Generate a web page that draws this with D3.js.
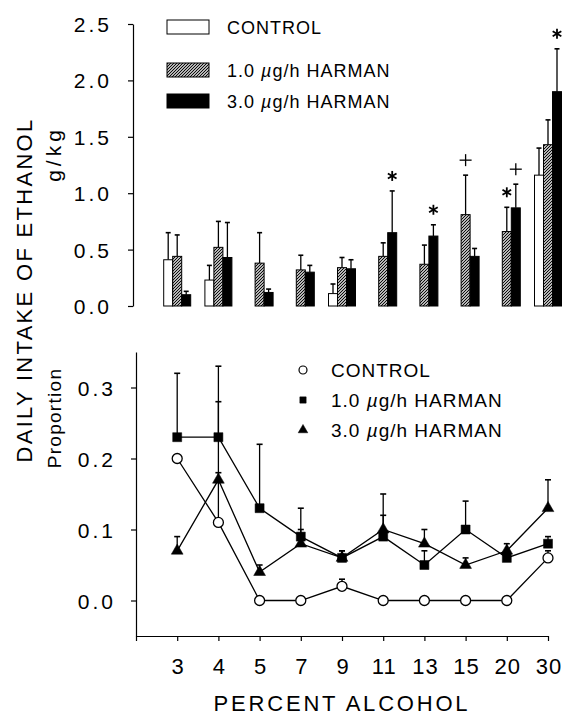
<!DOCTYPE html>
<html>
<head>
<meta charset="utf-8">
<script src="https://cdn.jsdelivr.net/npm/d3@7"></script>
<style>
body { margin: 0; background: #fff; }
svg { display: block; font-family: "Liberation Sans", Arial, sans-serif; }
</style>
</head>
<body>
<div id="wrapper"></div>
<script>
const categories = ["3", "4", "5", "7", "9", "11", "13", "15", "20", "30"]
const seriesNames = ["CONTROL", "1.0", "3.0"]

// top panel, g/kg (mean and mean + SEM)
const intakeControl = [0.41, 0.23, 0, 0, 0.11, 0, 0, 0, 0, 1.16]
const intakeControlErr = [0.65, 0.36, null, null, 0.195, null, null, null, null, 1.40]
const intakeLow = [0.44, 0.52, 0.38, 0.32, 0.34, 0.44, 0.37, 0.81, 0.66, 1.43]
const intakeLowErr = [0.63, 0.75, 0.65, 0.45, 0.43, 0.56, 0.54, 1.16, 0.875, 1.65]
const intakeHigh = [0.10, 0.43, 0.12, 0.30, 0.33, 0.65, 0.62, 0.44, 0.87, 1.90]
const intakeHighErr = [0.13, 0.74, 0.15, 0.36, 0.41, 1.02, 0.72, 0.51, 1.08, 2.28]

// significance marks on the top panel
const marks = [
    { cat: "11", series: 2, sym: "*" },
    { cat: "13", series: 2, sym: "*" },
    { cat: "15", series: 1, sym: "+" },
    { cat: "20", series: 1, sym: "*" },
    { cat: "20", series: 2, sym: "+" },
    { cat: "30", series: 2, sym: "*" },
]

// bottom panel, proportion
const propControl = [0.20, 0.11, 0, 0, 0.02, 0, 0, 0, 0, 0.06]
const propControlErr = [null, 0.18, null, null, 0.03, null, null, null, null, 0.07]
const propLow = [0.23, 0.23, 0.13, 0.09, 0.06, 0.09, 0.05, 0.10, 0.06, 0.08]
const propLowErr = [0.32, 0.33, 0.22, 0.13, 0.07, 0.12, 0.07, 0.14, 0.07, 0.09]
const propHigh = [0.07, 0.17, 0.04, 0.08, 0.06, 0.10, 0.08, 0.05, 0.07, 0.13]
const propHighErr = [0.09, 0.28, 0.05, 0.10, 0.07, 0.15, 0.10, 0.06, 0.08, 0.17]

const topTicks = [0, 0.5, 1.0, 1.5, 2.0, 2.5]
const bottomTicks = [0, 0.1, 0.2, 0.3]

const width = 564
const height = 715

const svg = d3.select("#wrapper")
    .append("svg")
    .attr("width", width)
    .attr("height", height)

const defs = svg.append("defs")
defs.append("pattern")
    .attr("id", "hatch")
    .attr("patternUnits", "userSpaceOnUse")
    .attr("width", 3)
    .attr("height", 3)
    .call(p => p.append("rect").attr("width", 3).attr("height", 3).attr("fill", "#fff"))
    .append("path")
    .attr("d", "M-1,1 l2,-2 M0,3 l3,-3 M2,4 l2,-2")
    .attr("stroke", "#000")
    .attr("stroke-width", 1.1)

const xScale = d3.scalePoint()
    .domain([""].concat(categories))
    .range([136, 548])

const subScale = d3.scaleBand()
    .domain([0, 1, 2])
    .range([-13.5, 13.5])

const yTop = d3.scaleLinear().domain([0, 2.5]).range([306, 24])
const yBottom = d3.scaleLinear().domain([-0.05, 0.35]).range([636, 352])

const styleAxis = g => {
    g.selectAll("path, line").attr("stroke", "#000").attr("stroke-width", 1.2)
    g.selectAll("text")
        .attr("fill", "#000")
        .style("font-family", "Liberation Sans, Arial, sans-serif")
        .style("font-size", "21px")
        .style("letter-spacing", "3px")
}

// ---------- top panel ----------
const topAxis = svg.append("g")
    .attr("transform", "translate(133,0)")
    .call(d3.axisLeft(yTop).tickValues(topTicks).tickFormat(d3.format(".1f")).tickSize(5).tickSizeOuter(0).tickPadding(16))
    .call(styleAxis)
topAxis.selectAll("text").attr("dy", "0.36em")

const fills = ["#fff", "url(#hatch)", "#000"]
const barData = []
const intakeVals = [intakeControl, intakeLow, intakeHigh]
const intakeErrs = [intakeControlErr, intakeLowErr, intakeHighErr]
categories.forEach((c, i) => {
    intakeVals.forEach((vals, s) => {
        barData.push({ cat: c, series: s, value: vals[i], err: intakeErrs[s][i] })
    })
})

const bars = svg.append("g")
bars.selectAll("line.err")
    .data(barData.filter(d => d.err != null))
    .join("g")
    .each(function (d) {
        const cx = xScale(d.cat) + subScale(d.series) + subScale.bandwidth() / 2
        const g = d3.select(this)
        g.append("line")
            .attr("x1", cx).attr("x2", cx)
            .attr("y1", yTop(d.value)).attr("y2", yTop(d.err))
            .attr("stroke", "#000").attr("stroke-width", 1.3)
        g.append("line")
            .attr("x1", cx - 2.5).attr("x2", cx + 2.5)
            .attr("y1", yTop(d.err)).attr("y2", yTop(d.err))
            .attr("stroke", "#000").attr("stroke-width", 1.6)
    })

bars.selectAll("rect")
    .data(barData)
    .join("rect")
    .attr("x", d => xScale(d.cat) + subScale(d.series))
    .attr("width", subScale.bandwidth())
    .attr("y", d => yTop(d.value))
    .attr("height", d => yTop(0) - yTop(d.value))
    .attr("fill", d => fills[d.series])
    .attr("stroke", "#000")
    .attr("stroke-width", 1)

const markG = svg.append("g")
marks.forEach(m => {
    const i = categories.indexOf(m.cat)
    const cx = xScale(m.cat) + subScale(m.series) + subScale.bandwidth() / 2
    const cy = yTop(intakeErrs[m.series][i]) - 15
    if (m.sym === "*") {
        [90, 30, 150].forEach(a => {
            const r = 5, t = a * Math.PI / 180
            markG.append("line")
                .attr("x1", cx - r * Math.cos(t)).attr("y1", cy - r * Math.sin(t))
                .attr("x2", cx + r * Math.cos(t)).attr("y2", cy + r * Math.sin(t))
                .attr("stroke", "#000").attr("stroke-width", 1.8)
        })
    } else {
        markG.append("line").attr("x1", cx - 6).attr("x2", cx + 6).attr("y1", cy).attr("y2", cy)
            .attr("stroke", "#000").attr("stroke-width", 1.3)
        markG.append("line").attr("x1", cx).attr("x2", cx).attr("y1", cy - 6).attr("y2", cy + 6)
            .attr("stroke", "#000").attr("stroke-width", 1.3)
    }
})

// top legend
const topLegendY = [27, 70, 101]
const topLegend = svg.append("g")
seriesNames.forEach((name, s) => {
    topLegend.append("rect")
        .attr("x", 167).attr("y", topLegendY[s] - 7)
        .attr("width", 42).attr("height", 14)
        .attr("fill", fills[s]).attr("stroke", "#000").attr("stroke-width", 1)
    const t = topLegend.append("text")
        .attr("x", 227).attr("y", topLegendY[s] + 6.5)
        .style("font-size", "18px").style("letter-spacing", "1px")
    if (s === 0) {
        t.text(name)
    } else {
        t.append("tspan").text(name + " ")
        t.append("tspan").style("font-style", "italic").text("µ")
        t.append("tspan").text("g/h HARMAN")
    }
})

// ---------- bottom panel ----------
const yAxisB = svg.append("g")
    .attr("transform", "translate(136,0)")
    .call(d3.axisLeft(yBottom).tickValues(bottomTicks).tickFormat(d3.format(".1f")).tickSize(5).tickSizeOuter(0).tickPadding(15))
    .call(styleAxis)
yAxisB.selectAll("text").attr("dy", "0.36em")

const xAxisB = svg.append("g")
    .attr("transform", "translate(0,636)")
    .call(d3.axisBottom(xScale).tickSize(5).tickSizeOuter(0).tickPadding(17))
    .call(styleAxis)
xAxisB.selectAll("text").style("font-size", "22px").style("letter-spacing", "1px").attr("dx", "0.5px")

const propVals = [propControl, propLow, propHigh]
const propErrs = [propControlErr, propLowErr, propHighErr]

const lineGen = d3.line()
    .x(d => xScale(d.cat))
    .y(d => yBottom(d.value))

const pointSeries = propVals.map((vals, s) =>
    categories.map((c, i) => ({ cat: c, value: vals[i], err: propErrs[s][i], series: s })))

const lineG = svg.append("g")
pointSeries.forEach(pts => {
    lineG.append("path")
        .attr("d", lineGen(pts))
        .attr("fill", "none")
        .attr("stroke", "#000")
        .attr("stroke-width", 1.3)
})

const errG = svg.append("g")
pointSeries.flat().filter(d => d.err != null).forEach(d => {
    const cx = xScale(d.cat)
    errG.append("line")
        .attr("x1", cx).attr("x2", cx)
        .attr("y1", yBottom(d.value)).attr("y2", yBottom(d.err))
        .attr("stroke", "#000").attr("stroke-width", 1.3)
    errG.append("line")
        .attr("x1", cx - 3).attr("x2", cx + 3)
        .attr("y1", yBottom(d.err)).attr("y2", yBottom(d.err))
        .attr("stroke", "#000").attr("stroke-width", 1.6)
})

const symbols = [d3.symbolCircle, d3.symbolSquare, d3.symbolTriangle]
const symbolSizes = [78, 81, 60]
const symbolFill = ["#fff", "#000", "#000"]
const pointG = svg.append("g")
pointSeries.forEach((pts, s) => {
    pointG.selectAll(null)
        .data(pts)
        .join("path")
        .attr("transform", d => `translate(${xScale(d.cat)},${yBottom(d.value)})`)
        .attr("d", d3.symbol(symbols[s], symbolSizes[s]))
        .attr("fill", symbolFill[s])
        .attr("stroke", "#000")
        .attr("stroke-width", s === 0 ? 1.3 : 0.5)
})

// bottom legend
const bottomLegendY = [370, 400, 430]
const bottomLegend = svg.append("g")
seriesNames.forEach((name, s) => {
    bottomLegend.append("path")
        .attr("transform", `translate(303,${bottomLegendY[s]})`)
        .attr("d", d3.symbol(symbols[s], s === 0 ? 50 : 40))
        .attr("fill", symbolFill[s])
        .attr("stroke", "#000")
        .attr("stroke-width", s === 0 ? 1.2 : 0.5)
    const t = bottomLegend.append("text")
        .attr("x", 331).attr("y", bottomLegendY[s] + 7)
        .style("font-size", "19px").style("letter-spacing", "1px")
    if (s === 0) {
        t.text(name)
    } else {
        t.append("tspan").text(name + " ")
        t.append("tspan").style("font-style", "italic").text("µ")
        t.append("tspan").text("g/h HARMAN")
    }
})

// axis titles
svg.append("text")
    .attr("transform", "translate(32,290) rotate(-90)")
    .attr("text-anchor", "middle")
    .style("font-size", "22px").style("letter-spacing", "2.3px")
    .text("DAILY INTAKE OF ETHANOL")

svg.append("text")
    .attr("transform", "translate(61,154) rotate(-90)")
    .attr("text-anchor", "middle")
    .style("font-size", "21px").style("letter-spacing", "4px")
    .text("g/kg")

svg.append("text")
    .attr("transform", "translate(61,418) rotate(-90)")
    .attr("text-anchor", "middle")
    .style("font-size", "19px").style("letter-spacing", "1.3px")
    .text("Proportion")

svg.append("text")
    .attr("x", 342).attr("y", 711)
    .attr("text-anchor", "middle")
    .style("font-size", "22px").style("letter-spacing", "2.8px")
    .text("PERCENT ALCOHOL")
</script>
</body>
</html>
